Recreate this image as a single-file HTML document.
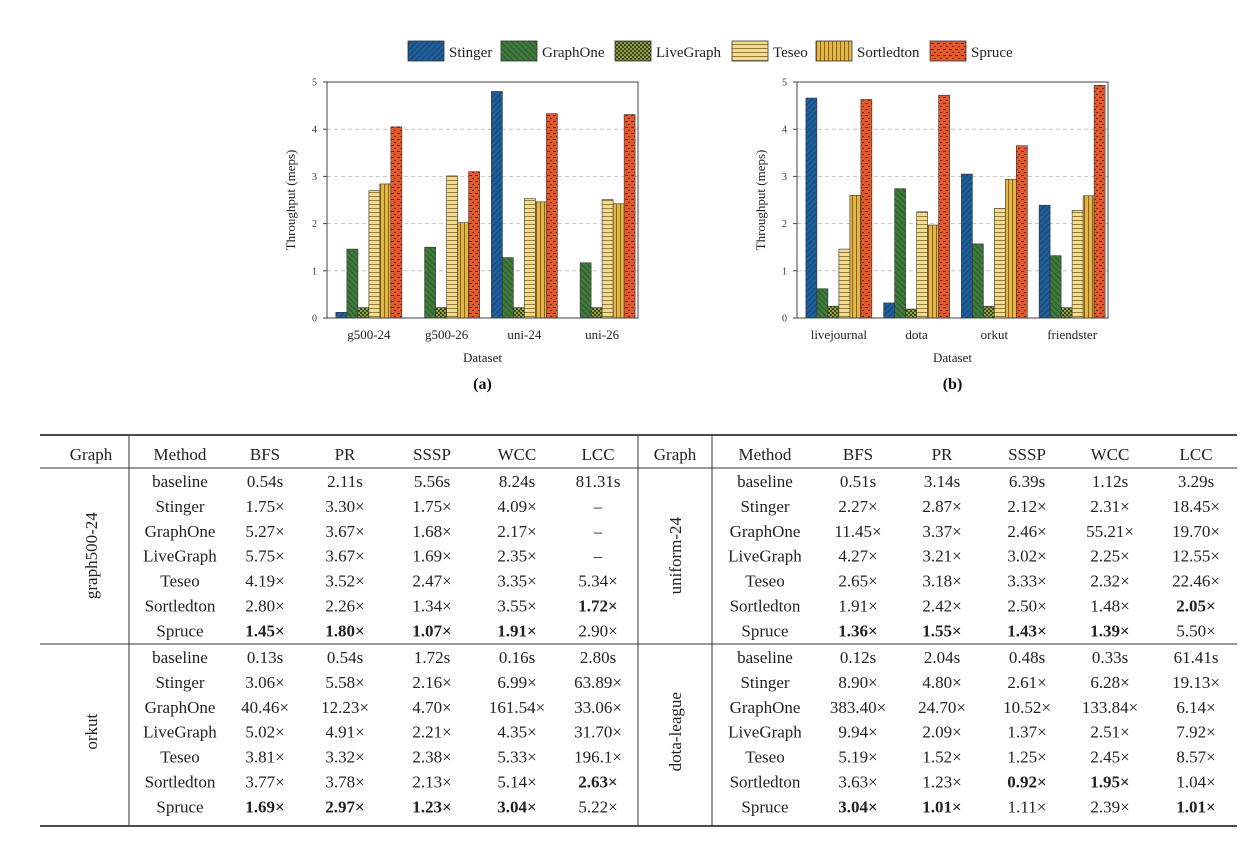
<!DOCTYPE html>
<html><head><meta charset="utf-8"><style>
html,body{margin:0;padding:0;background:#fff;}
svg{display:block;font-family:"Liberation Serif",serif;}
</style></head><body>
<svg id="root" width="1260" height="858" viewBox="0 0 1260 858" xmlns="http://www.w3.org/2000/svg">
<defs>
<pattern id="p0" patternUnits="userSpaceOnUse" width="4" height="4" patternTransform="rotate(45)"><rect width="4" height="4" fill="#1f5e98"/><line x1="0" y1="0" x2="0" y2="4" stroke="#0d3560" stroke-width="1.2"/></pattern>
<pattern id="p1" patternUnits="userSpaceOnUse" width="4" height="4" patternTransform="rotate(-45)"><rect width="4" height="4" fill="#3f7a3c"/><line x1="0" y1="0" x2="0" y2="4" stroke="#1d4420" stroke-width="1.2"/></pattern>
<pattern id="p2" patternUnits="userSpaceOnUse" width="4" height="4"><rect width="4" height="4" fill="#8e9e48"/><rect width="2" height="2" fill="#3c4a1c"/><rect x="2" y="2" width="2" height="2" fill="#3c4a1c"/></pattern>
<pattern id="p3" patternUnits="userSpaceOnUse" width="4" height="4"><rect width="4" height="4" fill="#f3db92"/><line x1="0" y1="0.5" x2="4" y2="0.5" stroke="#8a7330" stroke-width="0.9"/></pattern>
<pattern id="p4" patternUnits="userSpaceOnUse" width="4" height="4"><rect width="4" height="4" fill="#e4b548"/><line x1="0.5" y1="0" x2="0.5" y2="4" stroke="#7a5a14" stroke-width="0.9"/></pattern>
<pattern id="p5" patternUnits="userSpaceOnUse" width="6" height="6"><rect width="6" height="6" fill="#e2592e"/><line x1="1" y1="1.5" x2="4" y2="1.5" stroke="#6a2010" stroke-width="0.9"/><line x1="4" y1="4.5" x2="6" y2="4.5" stroke="#6a2010" stroke-width="0.9"/></pattern>
</defs>
</svg>
<script>
const seriesNames=["Stinger","GraphOne","LiveGraph","Teseo","Sortledton","Spruce"];
const catsA=["g500-24","g500-26","uni-24","uni-26"];
const catsB=["livejournal","dota","orkut","friendster"];
const stingerA=[0.12,0,4.80,0];
const graphOneA=[1.46,1.50,1.28,1.17];
const liveGraphA=[0.22,0.22,0.22,0.22];
const teseoA=[2.70,3.01,2.53,2.51];
const sortledtonA=[2.84,2.02,2.46,2.42];
const spruceA=[4.05,3.10,4.33,4.31];
const stingerB=[4.66,0.32,3.05,2.39];
const graphOneB=[0.62,2.74,1.57,1.32];
const liveGraphB=[0.25,0.19,0.25,0.22];
const teseoB=[1.46,2.25,2.32,2.28];
const sortledtonB=[2.60,1.97,2.94,2.59];
const spruceB=[4.63,4.72,3.65,4.93];
const yTicks=[0,1,2,3,4,5];

const NS="http://www.w3.org/2000/svg";
const root=document.getElementById('root');
function mk(tag,attrs,parent,txt){const e=document.createElementNS(NS,tag);for(const k in attrs)e.setAttribute(k,attrs[k]);if(txt!==undefined)e.textContent=txt;(parent||root).appendChild(e);return e;}

// legend
const legX=[408,501,615,732,816,930];
seriesNames.forEach((n,i)=>{
  const r=mk('rect',{x:legX[i],y:41,width:36,height:20,fill:'url(#p'+i+')',stroke:'#333','stroke-width':0.8});
  
  
  const t=mk('text',{x:legX[i]+41,y:57,'font-size':15,fill:'#222'},root,n);
  
  
});

function chart(id,x0,x1,cats,series,caption){
  const y0=82,y1=318,max=5;
  const g=mk('g',{});
  
  
  const yS=v=>y1-(v/max)*(y1-y0);
  const slot=(x1-x0)/cats.length;
  const bw=11;
  yTicks.forEach(v=>{
    if(v>0&&v<5){const gl=mk('line',{x1:x0,x2:x1,y1:yS(v),y2:yS(v),stroke:'#bbb','stroke-dasharray':'4,3','stroke-width':0.8},g);
      
      }
    mk('line',{x1:x0-4,x2:x0,y1:yS(v),y2:yS(v),stroke:'#444'},g);
    const t=mk('text',{x:x0-10,y:yS(v)+3.5,'font-size':10,'text-anchor':'end',fill:'#333'},g,String(v));
    
    
  });
  cats.forEach((c,ci)=>{
    const cx=x0+slot*(ci+0.5)+3;
    series.forEach((s,si)=>{
      const v=s[ci]; if(v<=0)return;
      const b=mk('rect',{x:cx-3*bw+si*bw,y:yS(v),width:bw,height:y1-yS(v),fill:'url(#p'+si+')',stroke:'#333','stroke-width':0.6},g);
      
      
    });
    const t=mk('text',{x:cx,y:339,'font-size':13,'text-anchor':'middle',fill:'#222'},g,c);
    
    
  });
  const fr=mk('rect',{x:x0,y:y0,width:x1-x0,height:y1-y0,fill:'none',stroke:'#444','stroke-width':1},g);
  
  
  const yl=mk('text',{x:0,y:0,'font-size':13,'text-anchor':'middle',fill:'#222',transform:`translate(${x0-32},${(y0+y1)/2}) rotate(-90)`},g,'Throughput (meps)');
  
  
  const xl=mk('text',{x:(x0+x1)/2,y:362,'font-size':13,'text-anchor':'middle',fill:'#222'},g,'Dataset');
  
  
  const cp=mk('text',{x:(x0+x1)/2,y:389,'font-size':16,'font-weight':'bold','text-anchor':'middle',fill:'#111'},g,caption);
  
  
}
chart('a',327,638,catsA,[stingerA,graphOneA,liveGraphA,teseoA,sortledtonA,spruceA],'(a)');
chart('b',797,1108,catsB,[stingerB,graphOneB,liveGraphB,teseoB,sortledtonB,spruceB],'(b)');

// table
const methods=["baseline","Stinger","GraphOne","LiveGraph","Teseo","Sortledton","Spruce"];
const headers=["Method","BFS","PR","SSSP","WCC","LCC"];
const tG500=[["0.54s","2.11s","5.56s","8.24s","81.31s"],["1.75×","3.30×","1.75×","4.09×","–"],["5.27×","3.67×","1.68×","2.17×","–"],["5.75×","3.67×","1.69×","2.35×","–"],["4.19×","3.52×","2.47×","3.35×","5.34×"],["2.80×","2.26×","1.34×","3.55×","*1.72×"],["*1.45×","*1.80×","*1.07×","*1.91×","2.90×"]];
const tOrkut=[["0.13s","0.54s","1.72s","0.16s","2.80s"],["3.06×","5.58×","2.16×","6.99×","63.89×"],["40.46×","12.23×","4.70×","161.54×","33.06×"],["5.02×","4.91×","2.21×","4.35×","31.70×"],["3.81×","3.32×","2.38×","5.33×","196.1×"],["3.77×","3.78×","2.13×","5.14×","*2.63×"],["*1.69×","*2.97×","*1.23×","*3.04×","5.22×"]];
const tUni=[["0.51s","3.14s","6.39s","1.12s","3.29s"],["2.27×","2.87×","2.12×","2.31×","18.45×"],["11.45×","3.37×","2.46×","55.21×","19.70×"],["4.27×","3.21×","3.02×","2.25×","12.55×"],["2.65×","3.18×","3.33×","2.32×","22.46×"],["1.91×","2.42×","2.50×","1.48×","*2.05×"],["*1.36×","*1.55×","*1.43×","*1.39×","5.50×"]];
const tDota=[["0.12s","2.04s","0.48s","0.33s","61.41s"],["8.90×","4.80×","2.61×","6.28×","19.13×"],["383.40×","24.70×","10.52×","133.84×","6.14×"],["9.94×","2.09×","1.37×","2.51×","7.92×"],["5.19×","1.52×","1.25×","2.45×","8.57×"],["3.63×","1.23×","1.04×".replace("1.04×","*0.92×"),"*1.95×","1.04×"],["*3.04×","*1.01×","1.11×","2.39×","*1.01×"]];

const tbl=mk('g',{'font-size':17,fill:'#222'});


[[435,1.8],[468,1],[644,1],[826,1.8]].forEach(([y,w])=>mk('line',{x1:40,x2:1237,y1:y,y2:y,stroke:'#333','stroke-width':w},tbl));
[129,638,712].forEach(x=>mk('line',{x1:x,x2:x,y1:436,y2:826,stroke:'#333','stroke-width':1},tbl));
const colL=[180,265,345,432,517,598], colR=[765,858,942,1027,1110,1196];
function hdr(gx,cols){
  const t=mk('text',{x:gx,y:460,'text-anchor':'middle'},tbl,'Graph');
  
  
  headers.forEach((h,i)=>{const e=mk('text',{x:cols[i],y:460,'text-anchor':'middle'},tbl,h);
    
    });
}
hdr(91,colL);hdr(675,colR);
function block(name,gx,cols,y0,data){
  const yc=y0+3*24.9;
  const gl=mk('text',{x:0,y:0,'text-anchor':'middle',transform:`translate(${gx+6},${yc}) rotate(-90)`},tbl,name);
  
  
  methods.forEach((m,ri)=>{
    const y=y0+ri*24.9+6;
    const me=mk('text',{x:cols[0],y:y,'text-anchor':'middle'},tbl,m);
    
    
    data[ri].forEach((v,ci)=>{
      const bold=v.startsWith('*');
      const c=mk('text',{x:cols[ci+1],y:y,'text-anchor':'middle','font-weight':bold?'bold':'normal'},tbl,bold?v.slice(1):v);
      
      
    });
  });
}
block('graph500-24',91,colL,481,tG500);
block('orkut',91,colL,657,tOrkut);
block('uniform-24',675,colR,481,tUni);
block('dota-league',675,colR,657,tDota);
</script>
</body></html>
